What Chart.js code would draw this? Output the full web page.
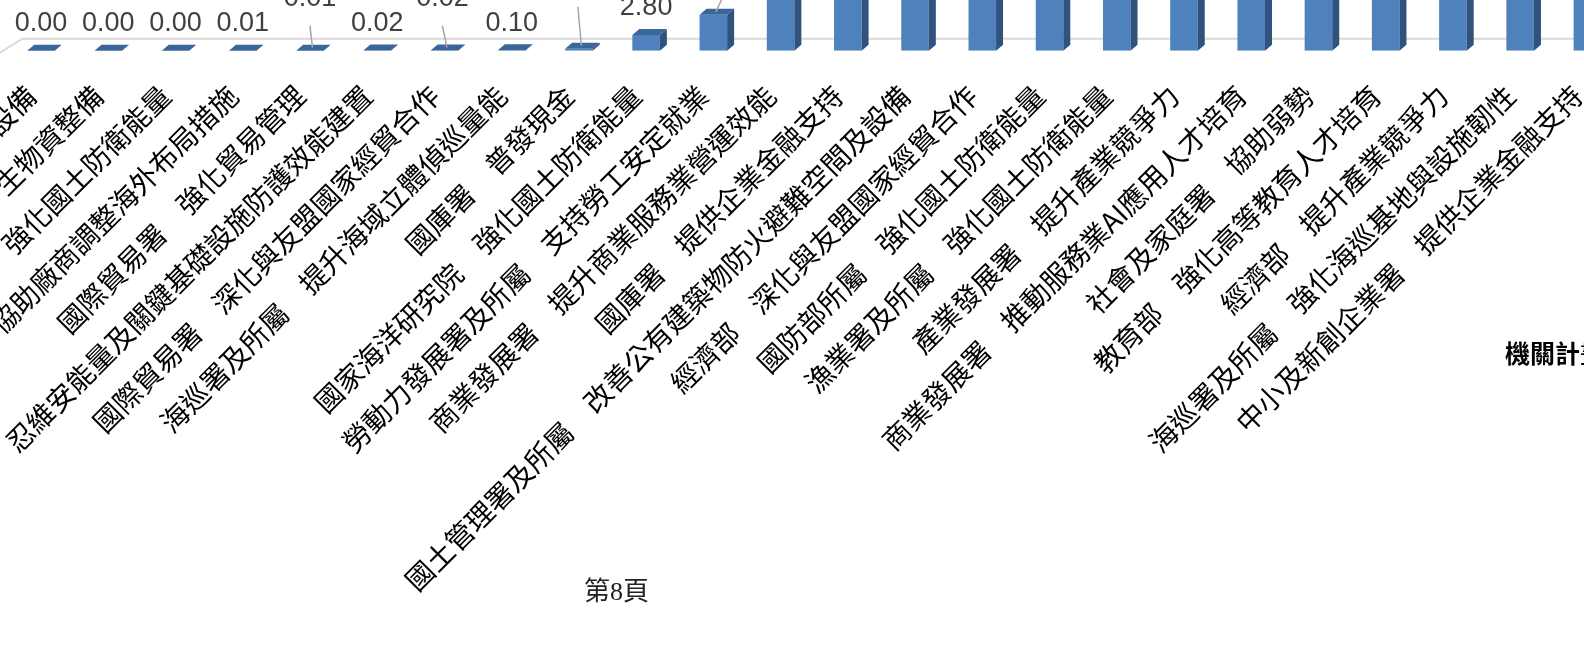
<!DOCTYPE html>
<html>
<head>
<meta charset="utf-8">
<script src="https://cdn.jsdelivr.net/npm/chart.js@4.4.1/dist/chart.umd.min.js"></script>
<style>
	html, body { margin: 0; padding: 0; background: #fff; overflow: hidden; width: 1584px; height: 658px; }
	#wrap { position: absolute; left: 0; top: 0; width: 1621px; height: 658px; }
	.note { position: absolute; white-space: nowrap; color: #000; }
</style>
</head>
<body>
<div id="wrap"><canvas id="myChart"></canvas></div>
<div class="note" style="left:1505px;top:334px;font:bold 25px 'Noto Sans CJK TC';">機關計畫</div>
<div class="note" style="left:584px;top:570px;font:26px 'Liberation Serif','Noto Sans CJK TC';color:#222;">第8頁</div>
<script>
// categories (only the part of each label that shows in the crop)
const projects = [
	"設備",
	"生物資整備",
	"強化國土防衛能量",
	"協助廠商調整海外布局措施",
	"國際貿易署　強化貿易管理",
	"忍維安能量及關鍵基礎設施防護效能建置",
	"國際貿易署　深化與友盟國家經貿合作",
	"海巡署及所屬　提升海域立體偵巡量能",
	"國庫署　普發現金",
	"國家海洋研究院　強化國土防衛能量",
	"勞動力發展署及所屬　支持勞工安定就業",
	"商業發展署　提升商業服務業營運效能",
	"國庫署　提供企業金融支持",
	"國土管理署及所屬　改善公有建築物防火避難空間及設備",
	"經濟部　深化與友盟國家經貿合作",
	"國防部所屬　強化國土防衛能量",
	"漁業署及所屬　強化國土防衛能量",
	"產業發展署　提升產業競爭力",
	"商業發展署　推動服務業AI應用人才培育",
	"社會及家庭署　協助弱勢",
	"教育部　強化高等教育人才培育",
	"經濟部　提升產業競爭力",
	"海巡署及所屬　強化海巡基地與設施韌性",
	"中小及新創企業署　提供企業金融支持",
];

// amounts (bars from index 11 on run past the top of the crop, so they are estimates)
const amounts = [0.00, 0.00, 0.00, 0.01, 0.01, 0.02, 0.02, 0.10, 0.35, 2.80, 6.40, 12.5, 15.0, 18.0, 20.0, 24.0, 28.0, 30.0, 35.0, 40.0, 48.0, 50.0, 60.0, 80.0];

const BASE_Y = 50.7; // where the bar fronts stand, px from top
const DX = 7;
const DY = 6;

// draws the floor edge, the side and top faces of each bar
const bar3d = {
	id: "bar3d",
	beforeDatasetsDraw(chart) {
		const ctx = chart.ctx;
		const area = chart.chartArea;
		ctx.save();
		ctx.strokeStyle = "#D9D9D9";
		ctx.lineWidth = 2;
		ctx.beginPath();
		ctx.moveTo(area.left - 14, area.bottom + 6);
		ctx.lineTo(area.left + 15, area.bottom - 12);
		ctx.lineTo(area.right, area.bottom - 12);
		ctx.stroke();
		ctx.restore();
	},
	afterDatasetsDraw(chart) {
		const ctx = chart.ctx;
		ctx.save();
		chart.getDatasetMeta(0).data.forEach((bar) => {
			const p = bar.getProps(["x", "y", "base", "width"], true);
			const l = p.x - p.width / 2;
			const r = p.x + p.width / 2;
			// side
			ctx.fillStyle = "#30527F";
			ctx.beginPath();
			ctx.moveTo(r, p.y);
			ctx.lineTo(r + DX, p.y - DY);
			ctx.lineTo(r + DX, p.base - DY);
			ctx.lineTo(r, p.base);
			ctx.closePath();
			ctx.fill();
			// top
			ctx.fillStyle = "#3B6699";
			ctx.beginPath();
			ctx.moveTo(l, p.y);
			ctx.lineTo(l + DX, p.y - DY);
			ctx.lineTo(r + DX, p.y - DY);
			ctx.lineTo(r, p.y);
			ctx.closePath();
			ctx.fill();
		});
		ctx.restore();
	},
};

// value labels, a few of them lifted with a leader line
const valueLabels = {
	id: "valueLabels",
	afterDatasetsDraw(chart, args, opts) {
		const ctx = chart.ctx;
		ctx.save();
		ctx.font = "27px 'Liberation Sans'";
		ctx.textAlign = "center";
		ctx.textBaseline = "middle";
		chart.getDatasetMeta(0).data.forEach((bar, i) => {
			let cx = bar.x;
			let cy = bar.y - opts.gap;
			const lead = opts.leaders[i];
			if (lead) {
				cx += lead[0];
				cy -= lead[1];
				ctx.strokeStyle = "#A6A6A6";
				ctx.lineWidth = 1.5;
				ctx.beginPath();
				ctx.moveTo(bar.x + DX / 2 - 1, bar.y - DY / 2);
				ctx.lineTo(cx, cy + opts.gap);
				ctx.stroke();
			}
			ctx.fillStyle = "#404040";
			ctx.fillText(amounts[i].toFixed(2), cx, cy);
		});
		ctx.restore();
	},
};

const chart = new Chart(document.getElementById("myChart").getContext("2d"), {
	type: "bar",
	data: {
		labels: projects,
		datasets: [
			{
				data: amounts,
				backgroundColor: "#4F81BD",
				borderWidth: 0,
				barPercentage: 0.41,
				categoryPercentage: 1,
			},
		],
	},
	plugins: [bar3d, valueLabels],
	options: {
		responsive: true,
		maintainAspectRatio: false,
		animation: false,
		layout: {
			padding: { left: 7.4, right: 0, top: 0, bottom: 0 },
		},
		plugins: {
			legend: { display: false },
			tooltip: { enabled: false },
			valueLabels: {
				gap: 27,
				leaders: { 4: [0, 25], 6: [-2, 25], 8: [-1, 42], 10: [10, 19] },
			},
		},
		scales: {
			y: {
				display: false,
				min: 0,
				max: BASE_Y / 5.6,
			},
			x: {
				grid: { display: false, drawTicks: false },
				border: { display: false },
				ticks: {
					autoSkip: false,
					minRotation: 45,
					maxRotation: 45,
					padding: 28,
					labelOffset: -10,
					color: "#000",
					font: { family: "'Noto Sans CJK TC'", size: 28 },
				},
				afterFit: function (scale) {
					scale.height = 658 - BASE_Y;
					scale.paddingLeft = 0;
					scale.paddingRight = 0;
				},
			},
		},
	},
});
</script>
</body>
</html>
